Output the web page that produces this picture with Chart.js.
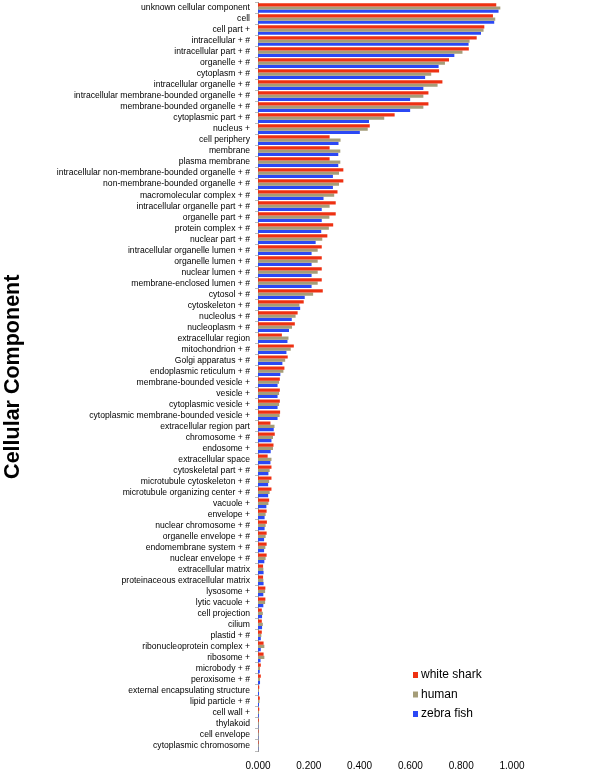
<!DOCTYPE html>
<html>
<head>
<meta charset="utf-8">
<script src="https://cdn.jsdelivr.net/npm/chart.js@4.4.1/dist/chart.umd.min.js"></script>
<style>
  html, body { margin: 0; padding: 0; background: #fff; }
  #wrap { width: 600px; height: 769px; position: relative; }
</style>
</head>
<body>
<div id="wrap"><canvas id="ccChart"></canvas></div>
<script>
const categories = [
  'unknown cellular component', 'cell', 'cell part +', 'intracellular + #',
  'intracellular part + #', 'organelle + #', 'cytoplasm + #', 'intracellular organelle + #',
  'intracellular membrane-bounded organelle + #', 'membrane-bounded organelle + #',
  'cytoplasmic part + #', 'nucleus +', 'cell periphery', 'membrane', 'plasma membrane',
  'intracellular non-membrane-bounded organelle + #', 'non-membrane-bounded organelle + #',
  'macromolecular complex + #', 'intracellular organelle part + #', 'organelle part + #',
  'protein complex + #', 'nuclear part + #', 'intracellular organelle lumen + #',
  'organelle lumen + #', 'nuclear lumen + #', 'membrane-enclosed lumen + #', 'cytosol + #',
  'cytoskeleton + #', 'nucleolus + #', 'nucleoplasm + #', 'extracellular region',
  'mitochondrion + #', 'Golgi apparatus + #', 'endoplasmic reticulum + #',
  'membrane-bounded vesicle +', 'vesicle +', 'cytoplasmic vesicle +',
  'cytoplasmic membrane-bounded vesicle +', 'extracellular region part', 'chromosome + #',
  'endosome +', 'extracellular space', 'cytoskeletal part + #', 'microtubule cytoskeleton + #',
  'microtubule organizing center + #', 'vacuole +', 'envelope +', 'nuclear chromosome + #',
  'organelle envelope + #', 'endomembrane system + #', 'nuclear envelope + #',
  'extracellular matrix', 'proteinaceous extracellular matrix', 'lysosome +', 'lytic vacuole +',
  'cell projection', 'cilium', 'plastid + #', 'ribonucleoprotein complex +', 'ribosome +',
  'microbody + #', 'peroxisome + #', 'external encapsulating structure', 'lipid particle + #',
  'cell wall +', 'thylakoid', 'cell envelope', 'cytoplasmic chromosome'
];

const whiteShark = [
  0.938, 0.925, 0.891, 0.861, 0.830, 0.752, 0.713, 0.726, 0.671, 0.671,
  0.538, 0.440, 0.282, 0.282, 0.282, 0.336, 0.336, 0.313, 0.306, 0.306,
  0.296, 0.273, 0.251, 0.251, 0.251, 0.251, 0.255, 0.180, 0.156, 0.145,
  0.094, 0.141, 0.117, 0.104, 0.086, 0.086, 0.086, 0.087, 0.049, 0.066,
  0.061, 0.038, 0.053, 0.053, 0.053, 0.044, 0.034, 0.035, 0.034, 0.034,
  0.034, 0.020, 0.020, 0.029, 0.029, 0.015, 0.015, 0.015, 0.022, 0.022,
  0.011, 0.011, 0.005, 0.007, 0.005, 0.003, 0.002, 0.002
];

const human = [
  0.954, 0.934, 0.888, 0.833, 0.805, 0.736, 0.682, 0.707, 0.651, 0.651,
  0.497, 0.432, 0.325, 0.324, 0.324, 0.319, 0.319, 0.300, 0.282, 0.281,
  0.279, 0.253, 0.235, 0.235, 0.235, 0.235, 0.217, 0.163, 0.148, 0.134,
  0.120, 0.129, 0.107, 0.100, 0.083, 0.083, 0.083, 0.085, 0.065, 0.059,
  0.059, 0.053, 0.046, 0.044, 0.046, 0.041, 0.030, 0.030, 0.030, 0.029,
  0.030, 0.021, 0.021, 0.028, 0.028, 0.019, 0.019, 0.013, 0.025, 0.025,
  0.008, 0.008, 0.004, 0.006, 0.004, 0.002, 0.001, 0.001
];

const zebraFish = [
  0.947, 0.930, 0.878, 0.829, 0.773, 0.711, 0.658, 0.651, 0.599, 0.599,
  0.437, 0.401, 0.317, 0.316, 0.316, 0.295, 0.295, 0.258, 0.251, 0.251,
  0.249, 0.227, 0.211, 0.211, 0.211, 0.211, 0.184, 0.166, 0.133, 0.122,
  0.116, 0.112, 0.096, 0.088, 0.077, 0.077, 0.077, 0.077, 0.062, 0.053,
  0.050, 0.049, 0.041, 0.040, 0.040, 0.033, 0.026, 0.026, 0.024, 0.024,
  0.025, 0.022, 0.022, 0.021, 0.021, 0.016, 0.016, 0.011, 0.011, 0.010,
  0.007, 0.008, 0.004, 0.004, 0.003, 0.001, 0.001, 0.001
];

const seriesNames = ['white shark', 'human', 'zebra fish'];
const seriesColors = ['#ee3112', '#a59d78', '#2b48f5'];

// legend drawn inside the plot, lower right, like the original
const innerLegend = {
  id: 'innerLegend',
  afterDraw(chart) {
    const ctx = chart.ctx;
    const area = chart.chartArea;
    const x = area.right - 99;
    let y = area.bottom - 76;
    ctx.save();
    ctx.font = '12px "Liberation Sans", Arial, sans-serif';
    ctx.textBaseline = 'middle';
    chart.data.datasets.forEach(function(ds) {
      ctx.fillStyle = ds.backgroundColor;
      ctx.fillRect(x, y - 3, 5, 6);
      ctx.fillStyle = '#000';
      ctx.fillText(ds.label, x + 8, y);
      y += 19.5;
    });
    ctx.restore();
  }
};

const ctx = document.getElementById('ccChart').getContext('2d');

new Chart(ctx, {
  type: 'bar',
  data: {
    labels: categories,
    datasets: [
      { label: seriesNames[0], data: whiteShark, backgroundColor: seriesColors[0] },
      { label: seriesNames[1], data: human, backgroundColor: seriesColors[1] },
      { label: seriesNames[2], data: zebraFish, backgroundColor: seriesColors[2] }
    ]
  },
  options: {
    indexAxis: 'y',
    responsive: true,
    maintainAspectRatio: false,
    animation: false,
    layout: { padding: { top: 2.5, right: 88, bottom: 0, left: 0 } },
    datasets: {
      bar: { categoryPercentage: 0.88, barPercentage: 1.0 }
    },
    scales: {
      x: {
        min: 0,
        max: 1,
        afterFit: function(scale) { scale.height = 18; },
        grid: { display: false, drawTicks: false },
        border: { display: false },
        ticks: {
          stepSize: 0.2,
          padding: 9,
          color: '#000',
          font: { family: '"Liberation Sans", Arial, sans-serif', size: 10 },
          callback: function(v) { return Number(v).toFixed(3); }
        }
      },
      y: {
        afterFit: function(scale) {
          scale.width = 258;
          scale.paddingTop = 0;
          scale.paddingBottom = 0;
        },
        grid: { drawOnChartArea: false, tickLength: 3, color: '#bbb' },
        border: { color: '#999' },
        ticks: {
          autoSkip: false,
          padding: 5,
          color: '#000',
          font: { family: '"Liberation Sans", Arial, sans-serif', size: 8.6 }
        },
        title: {
          display: true,
          text: 'Cellular Component',
          color: '#000',
          padding: { top: 0, bottom: 0 },
          font: { family: '"Liberation Sans", Arial, sans-serif', size: 21.5, weight: 'bold' }
        }
      }
    },
    plugins: {
      legend: { display: false },
      tooltip: { enabled: false }
    }
  },
  plugins: [innerLegend]
});
</script>
</body>
</html>
